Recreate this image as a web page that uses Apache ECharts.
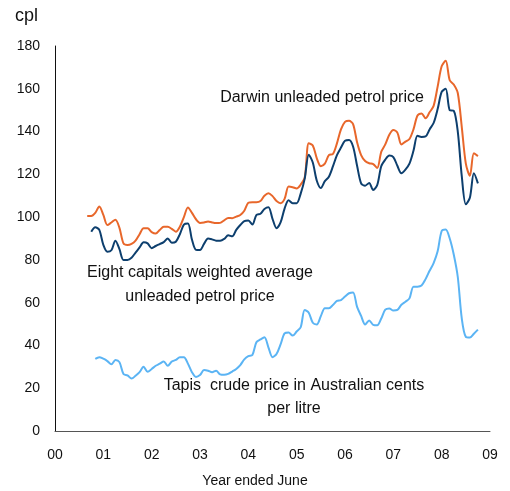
<!DOCTYPE html>
<html><head><meta charset="utf-8">
<script src="https://cdn.jsdelivr.net/npm/echarts@6/dist/echarts.min.js"></script>
<style>html,body{margin:0;padding:0;background:#fff}#c{width:510px;height:491px}</style>
</head><body><div id="c"></div>
<script>
// Monthly observations, Sep 2000 .. Sep 2008 (decimal years)
var startYear = 2000, startMonth = 8; // September 2000 (0-based month index)
var nObs = 98;
var dates = [];
for (var i = 0; i < nObs; i++) dates.push(startYear + (startMonth + i) / 12);

var xTickLabels = ['00','01','02','03','04','05','06','07','08','09'];
var yTicks = [0,20,40,60,80,100,120,140,160,180];

var darwin = [100.5,100.5,102,105,101,96.3,97.5,98.8,95,87.7,87,87.5,89,92,94.8,94.8,93,92.3,94,95.5,
  95.5,94.5,93.2,95.5,100,104.5,102,99,97.3,97.5,98,97.5,97.2,97.3,98.5,99.6,99.5,100.2,101,103,
  106.7,107,107,107.5,110,111.2,109.8,107.5,106.5,108.5,114.3,114,113.4,115.2,118.5,134.5,133.5,127.5,123.8,125,
  129,129.5,134.5,141,144.5,145,143.5,135,129,126.2,125.2,124.8,123,130.5,134,138.5,140.7,139.5,134,135.3,
  136.5,141,147.5,148.5,146.2,149,152,161,170.5,173.1,164,162,158,142,125,119.3,129.8,128.5];

var eightCapitals = [null,93.2,95.3,94,87,83.8,84.5,89,85,80,80,81,83.4,85.8,88.2,87.7,85.5,86.5,87.4,88.3,
  90,88,88.5,92,96.5,97,89.5,84.7,84.6,87.5,90,89.6,89,89,89.8,91.5,91,94,96.3,98.1,
  98.4,96.5,101,101.6,103.8,104.6,99.2,94.8,97.5,104,107.9,106.5,106.5,111,118,129.2,125.5,117,113.6,116.8,
  118.9,123.7,129,132.5,135.7,136,133,124,115.8,114.7,116,112.7,115,123.8,126.9,128.8,128.1,124,120.5,122.2,
  125,131,138,137.5,137.7,141,144,150.5,158.5,160,150,149.7,140,119,106,109,120.5,115.8];

var tapis = [null,null,33.7,34.5,33.8,32.7,31.2,33.2,32.2,26.6,26,24.5,25.8,27.5,30,27.7,29,30.5,31.5,32.5,
  30.5,32.5,33.2,34.5,34.5,31.5,27.5,25.3,26.2,28.5,28.2,27.5,28.2,26.5,26.3,26.7,27.8,29,30.8,33.5,
  35,35.5,41.5,42.8,43.8,39,34.5,36,40.5,45.6,46,44.6,46.5,48.5,56.6,55.3,50.6,49.8,53.7,57.4,
  57.4,58.9,60.8,61.2,62.9,64.4,64.8,58,53.8,49.8,51.7,49.6,49.4,52.6,56.7,57.3,56.3,56.6,59,60.4,
  62,67.5,67.5,68,71,74.9,78.5,84,93.5,94.2,90,82.5,72,52.5,44,43.7,45.5,47.4];

function pairs(vals){ return vals.map(function(v,i){ return [dates[i], v]; }); }

var chart = echarts.init(document.getElementById('c'));
var FONT = 'Liberation Sans, Arial, sans-serif';
chart.setOption({
  animation: false,
  backgroundColor: '#fff',
  grid: {left: 55, right: 20, top: 46, bottom: 60, containLabel: false, outerBoundsMode: 'none'},
  xAxis: {
    type: 'value', min: 2000, max: 2009, interval: 1,
    axisLine: {lineStyle: {color: '#555', width: 1}},
    axisTick: {show: false}, splitLine: {show: false},
    axisLabel: {color: '#111', fontSize: 14, fontFamily: FONT, margin: 17,
      formatter: function(v){ return xTickLabels[Math.round(v - 2000)]; }}
  },
  yAxis: {
    type: 'value', min: 0, max: 180, interval: 20,
    axisLine: {show: true, lineStyle: {color: '#111', width: 1}},
    axisTick: {show: false}, splitLine: {show: false},
    axisLabel: {color: '#111', fontSize: 14, fontFamily: FONT, margin: 15}
  },
  series: [
    {type: 'line', name: 'Darwin', data: pairs(darwin), showSymbol: false, smooth: 0.3,
     lineStyle: {color: '#E8672B', width: 2}, z: 3},
    {type: 'line', name: 'Eight capitals', data: pairs(eightCapitals), showSymbol: false, smooth: 0.3,
     lineStyle: {color: '#0D3F6E', width: 2}, z: 4},
    {type: 'line', name: 'Tapis', data: pairs(tapis), showSymbol: false, smooth: 0.3,
     lineStyle: {color: '#5BB4F4', width: 2}, z: 3}
  ],
  graphic: [
    {type: 'text', left: 15, top: 7, style: {text: 'cpl', fontSize: 18, fontFamily: FONT, fill: '#111'}},
    {type: 'text', x: 255, y: 481, style: {text: 'Year ended June', fontSize: 14, fontFamily: FONT, fill: '#111', align: 'center', verticalAlign: 'middle'}},
    {type: 'text', x: 322, y: 98, style: {text: 'Darwin unleaded petrol price', fontSize: 16, fontFamily: FONT, fill: '#111', align: 'center', verticalAlign: 'middle'}},
    {type: 'text', x: 200, y: 273, style: {text: 'Eight capitals weighted average', fontSize: 16, fontFamily: FONT, fill: '#111', align: 'center', verticalAlign: 'middle'}},
    {type: 'text', x: 200, y: 297, style: {text: 'unleaded petrol price', fontSize: 16, fontFamily: FONT, fill: '#111', align: 'center', verticalAlign: 'middle'}},
    {type: 'text', x: 294, y: 386, style: {text: 'Tapis  crude price in Australian cents', fontSize: 16, fontFamily: FONT, fill: '#111', align: 'center', verticalAlign: 'middle'}},
    {type: 'text', x: 294, y: 409, style: {text: 'per litre', fontSize: 16, fontFamily: FONT, fill: '#111', align: 'center', verticalAlign: 'middle'}}
  ]
});
</script></body></html>
